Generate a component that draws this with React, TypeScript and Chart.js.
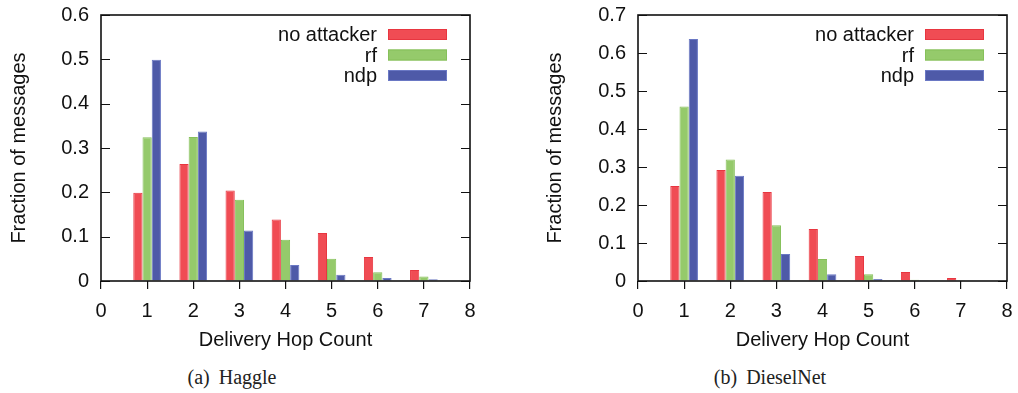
import React, { useEffect, useRef } from 'react';
import { Chart, registerables } from 'chart.js';

Chart.register(...registerables);

const hopCounts = [1, 2, 3, 4, 5, 6, 7];
const seriesLabels = ['no attacker', 'rf', 'ndp'];
const seriesColors = ['#f04c54', '#95ca6b', '#4e5aa8'];
const seriesBorders = ['#e83640', '#86c05a', '#6a78c4'];

const haggleNoAttacker = [0.199, 0.264, 0.204, 0.139, 0.108, 0.054, 0.025];
const haggleRf = [0.324, 0.325, 0.183, 0.093, 0.05, 0.02, 0.01];
const haggleNdp = [0.499, 0.337, 0.114, 0.036, 0.014, 0.007, 0.004];

const dieselNoAttacker = [0.25, 0.292, 0.234, 0.137, 0.066, 0.024, 0.008];
const dieselRf = [0.459, 0.32, 0.147, 0.058, 0.018, 0.003, 0.002];
const dieselNdp = [0.637, 0.277, 0.071, 0.018, 0.005, 0.002, 0.001];

const xMin = 0;
const xMax = 8;
const haggleYMax = 0.6;
const dieselYMax = 0.7;
const yStep = 0.1;

const xTitle = 'Delivery Hop Count';
const yTitle = 'Fraction of messages';

const SANS = "'Liberation Sans', Arial, Helvetica, sans-serif";
const SERIF = "'Liberation Serif', 'Times New Roman', Times, serif";

const framePlugin = {
  id: 'gnuFrame',
  afterDraw(chart: any) {
    const { ctx, chartArea } = chart;
    const { left, right, top, bottom } = chartArea;
    const y = chart.scales.y;
    ctx.save();
    ctx.strokeStyle = '#111';
    ctx.lineWidth = 1.2;
    ctx.beginPath();
    y.ticks.forEach((t: any) => {
      const py = Math.round(y.getPixelForValue(t.value)) + 0.5;
      ctx.moveTo(left, py);
      ctx.lineTo(left + 9, py);
      ctx.moveTo(right, py);
      ctx.lineTo(right - 9, py);
    });
    ctx.stroke();
    ctx.lineWidth = 1.6;
    ctx.strokeRect(left, top, right - left, bottom - top);
    ctx.restore();
  },
};

const legendPlugin = {
  id: 'gnuLegend',
  afterDraw(chart: any) {
    const { ctx, chartArea } = chart;
    ctx.save();
    ctx.font = `20px ${SANS}`;
    ctx.textAlign = 'right';
    ctx.textBaseline = 'middle';
    chart.data.datasets.forEach((ds: any, i: number) => {
      const cy = chartArea.top + 19.5 + i * 20.5;
      ctx.fillStyle = '#111';
      ctx.fillText(ds.label, chartArea.right - 93, cy + 1);
      ctx.fillStyle = ds.backgroundColor;
      ctx.fillRect(chartArea.right - 82, cy - 5.5, 59, 11);
      ctx.strokeStyle = ds.borderColor;
      ctx.lineWidth = 1;
      ctx.strokeRect(chartArea.right - 81.5, cy - 5, 58, 10);
    });
    ctx.restore();
  },
};

type PanelProps = {
  left: number;
  width: number;
  axisWidth: number;
  padRight: number;
  yMax: number;
  series: number[][];
};

function Panel({ left, width, axisWidth, padRight, yMax, series }: PanelProps) {
  const ref = useRef<HTMLCanvasElement | null>(null);
  useEffect(() => {
    if (!ref.current) return;
    const chart = new Chart(ref.current, {
      type: 'bar',
      data: {
        datasets: series.map((vals, i) => ({
          label: seriesLabels[i],
          data: hopCounts.map((h, j) => ({ x: h, y: vals[j] })),
          backgroundColor: seriesColors[i],
          borderColor: seriesBorders[i],
          borderWidth: 1,
          categoryPercentage: 0.6,
          barPercentage: 1.0,
        })),
      },
      options: {
        animation: false,
        responsive: false,
        maintainAspectRatio: false,
        layout: { padding: { top: 15, right: padRight, left: 0, bottom: 0 } },
        plugins: { legend: { display: false }, tooltip: { enabled: false } },
        scales: {
          x: {
            type: 'linear',
            min: xMin,
            max: xMax,
            offset: false,
            ticks: {
              stepSize: 1,
              color: '#111',
              padding: 10,
              font: { family: SANS, size: 20 },
              maxRotation: 0,
            },
            grid: {
              display: true,
              offset: false,
              drawOnChartArea: false,
              drawTicks: true,
              tickLength: 8,
              color: '#111',
              lineWidth: 1.2,
            },
            border: { display: false },
            title: {
              display: true,
              text: xTitle,
              color: '#111',
              font: { family: SANS, size: 20 },
              padding: { top: 0, bottom: 8 },
            },
            afterFit: (s: any) => {
              s.height = 79;
            },
          },
          y: {
            min: 0,
            max: yMax,
            ticks: {
              stepSize: yStep,
              color: '#111',
              padding: 0,
              font: { family: SANS, size: 20 },
              callback: (v: any) => String(Number(Number(v).toFixed(1))),
            },
            grid: {
              display: true,
              drawOnChartArea: false,
              drawTicks: true,
              tickLength: 12,
              color: 'rgba(0,0,0,0)',
            },
            border: { display: false },
            title: {
              display: true,
              text: yTitle,
              color: '#111',
              font: { family: SANS, size: 20 },
              padding: { top: 7, bottom: 0 },
            },
            afterFit: (s: any) => {
              s.width = axisWidth;
            },
          },
        },
      },
      plugins: [framePlugin, legendPlugin],
    } as any);
    return () => chart.destroy();
  }, []);
  return (
    <canvas
      ref={ref}
      width={width}
      height={360}
      style={{ position: 'absolute', left, top: 0, width, height: 360 }}
    />
  );
}

const captionStyle: React.CSSProperties = {
  position: 'absolute',
  top: 365,
  fontFamily: SERIF,
  fontSize: 20,
  lineHeight: '24px',
  color: '#222',
  whiteSpace: 'nowrap',
  wordSpacing: 4,
  transform: 'translateX(-50%)',
};

export default function App() {
  return (
    <div style={{ position: 'absolute', left: 0, top: 0, width: 1018, height: 393, background: '#fff', overflow: 'hidden' }}>
      <Panel left={0} width={490} axisWidth={101} padRight={20} yMax={haggleYMax} series={[haggleNoAttacker, haggleRf, haggleNdp]} />
      <Panel left={536} width={489} axisWidth={102} padRight={18} yMax={dieselYMax} series={[dieselNoAttacker, dieselRf, dieselNdp]} />
      <div style={{ ...captionStyle, left: 232 }}>(a) Haggle</div>
      <div style={{ ...captionStyle, left: 770 }}>(b) DieselNet</div>
    </div>
  );
}
